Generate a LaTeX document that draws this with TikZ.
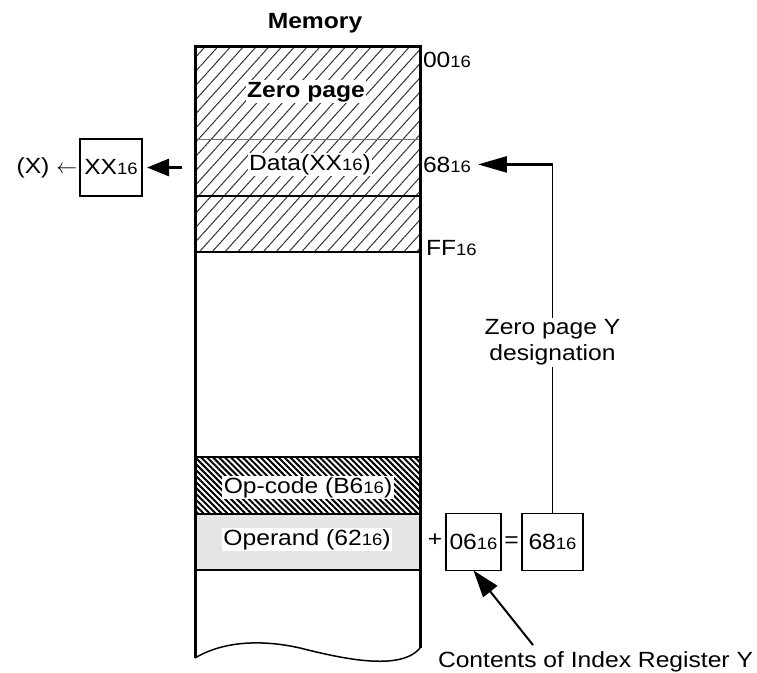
\documentclass[tikz,border=0pt]{standalone}
\usepackage{fontspec}
\setmainfont{Liberation Sans}[FakeStretch=1.12]
\usetikzlibrary{arrows.meta, positioning, patterns.meta, calc}

\begin{document}
\begin{tikzpicture}[x=1pt, y=-1pt, font=\fontsize{22}{26}\selectfont,
    every node/.style={inner sep=1pt, outer sep=0pt},
    row/.style={minimum width=225pt, inner sep=0pt},
    whitelbl/.style={fill=white, inner sep=1.5pt},
    valbox/.style={draw, line width=1.4pt, minimum height=57pt, inner sep=1pt},
    bigarrow/.style={line width=3pt, -{Triangle[length=22pt,width=17pt]}},
    hatch/.style={pattern={Lines[angle=48,distance=9.5pt,line width=1pt]}, pattern color=black!80},
    densehatch/.style={pattern={Lines[angle=-45,distance=4.2pt,line width=2pt]}, pattern color=black}]
\useasboundingbox (0,0) rectangle (757,672);
% Hex value with small 16
\def\hex#1{#1{\fontsize{16.5}{16}\selectfont 16}}

% Memory rows
\node[row, hatch, minimum height=206pt] (zprow) at (307.5,149) {};
\node[row, draw=black!55, line width=0.8pt, minimum height=57pt] (datarow) at (307.5,167.5) {};
\node[row, densehatch, minimum height=57pt] (oprow) at (307.5,485.5) {};
\node[row, fill=black!10, minimum height=56pt] (argrow) at (307.5,542) {};
\draw[line width=2.5pt] (zprow.south west) -- (zprow.south east);
\draw[line width=1.6pt] (datarow.south west) -- (datarow.south east);
\draw[line width=2pt] (oprow.north west) -- (oprow.north east);
\draw[line width=1.4pt] (argrow.north west) -- (argrow.north east);
\draw[line width=1.4pt] (argrow.south west) -- (argrow.south east);
% Column outline, torn at the bottom
\draw[line width=3pt] (195,658) -- (195,46) -- (420,46) -- (420,648);
\draw[line width=1.5pt] (195,658) .. controls (225,640) and (265,640) .. (300,648)
    .. controls (340,658) and (400,672) .. (420,648);

% Labels
\node[anchor=base] (title) at (315,28) {\bfseries Memory};
\node[whitelbl, anchor=base] (zptxt) at (306,97) {\bfseries Zero page};
\node[whitelbl, anchor=base] (datatxt) at (310,170) {Data(\hex{XX})};
\node[whitelbl, anchor=base] (optxt) at (308,493) {Op-code (\hex{B6})};
\node[whitelbl, anchor=base] (argtxt) at (307,545) {Operand (\hex{62})};
\node[anchor=base west] (lbl00) at (422,67) {\hex{00}};
\node[anchor=base west] (lbl68) at (422,172) {\hex{68}};
\node[anchor=base west] (lblFF) at (425,255) {\hex{FF}};

% Register X
\node[valbox, minimum width=62pt] (xx) at (111,167.5) {\hex{XX}};
\node[left=2pt of xx] (xreg) {(X) $\leftarrow$};
\draw[bigarrow, shorten <=13pt, shorten >=5pt] (datarow.west) -- (xx.east);

% Operand + Y
\node[valbox, minimum width=55pt] (box06) at (473.5,542) {\hex{06}};
\node[valbox, minimum width=61pt] (box68) at (552.5,542) {\hex{68}};
\node (plus) at (435,540) {+};
\node (eq) at ($(box06.east)!0.5!(box68.west)$) {=};
\node[anchor=base west] (contents) at (437,667) {Contents of Index Register Y};

% Connectors
\coordinate (turn) at (box68.north |- lbl68.east);
\draw[line width=1.3pt] (box68.north) -- (turn);
\node[fill=white, align=center, inner sep=2pt] (note) at ($(turn)!0.51!(box68.north)$) {Zero page Y\\designation};
\draw[line width=2.5pt, -{Triangle[length=29pt,width=16pt]}, shorten >=6pt] (turn) -- (lbl68.east);
\coordinate (ptr) at (533,645);
\draw[line width=2pt, -{Triangle[length=27pt,width=18pt]}] (ptr) -- (box06.south);
\end{tikzpicture}
\end{document}
